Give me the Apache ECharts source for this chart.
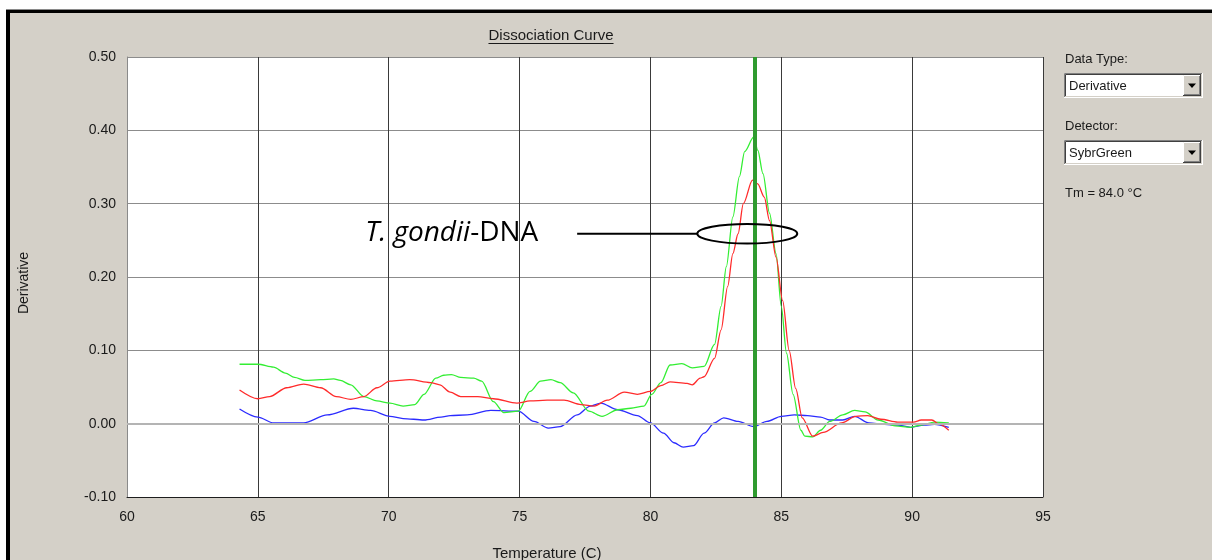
<!DOCTYPE html>
<html>
<head>
<meta charset="utf-8">
<script src="https://cdn.jsdelivr.net/npm/echarts@6/dist/echarts.min.js"></script>
<style>
  html, body { margin: 0; padding: 0; background: #ffffff; }
  #chart { width: 1212px; height: 560px; }
</style>
</head>
<body>
<div id="chart"></div>
<script>
// ---- Melt-curve data: temperature (°C) and derivative readings per well ----
const greenTemp = [64.3, 65.0, 65.6, 66.05, 66.4, 66.8, 67.4, 67.9, 68.15, 68.55, 69.05, 69.55, 70.05, 70.55, 71.0, 71.35, 71.8, 72.1, 72.4, 72.75, 73.25, 73.55, 74.0, 74.4, 74.95, 75.4, 75.8, 76.2, 76.55, 77.05, 77.65, 78.15, 78.75, 79.25, 79.75, 80.05, 80.4, 80.75, 81.2, 81.6, 82.05, 82.45, 82.7, 82.9, 83.15, 83.4, 83.6, 83.95, 84.1, 84.3, 84.55, 84.8, 85.0, 85.2, 85.45, 85.75, 85.9, 86.2, 86.5, 86.85, 87.35, 87.8, 88.2, 88.7, 89.35, 89.95, 90.35, 90.85, 91.4];
const greenDeriv = [0.081, 0.081, 0.077, 0.069, 0.063, 0.059, 0.060, 0.061, 0.059, 0.053, 0.037, 0.031, 0.028, 0.024, 0.026, 0.040, 0.062, 0.066, 0.067, 0.063, 0.062, 0.058, 0.030, 0.015, 0.017, 0.044, 0.058, 0.060, 0.056, 0.042, 0.017, 0.010, 0.019, 0.021, 0.024, 0.040, 0.056, 0.080, 0.082, 0.076, 0.078, 0.108, 0.160, 0.214, 0.282, 0.337, 0.371, 0.391, 0.373, 0.341, 0.287, 0.232, 0.160, 0.096, 0.040, -0.009, -0.017, -0.018, -0.009, 0.003, 0.012, 0.018, 0.016, 0.005, -0.003, -0.005, -0.002, 0.002, 0.001];

const redTemp = [64.3, 65.0, 65.45, 66.1, 66.75, 67.4, 68.0, 68.55, 69.05, 69.55, 70.05, 70.8, 71.6, 71.95, 72.35, 72.75, 73.4, 74.0, 74.9, 75.4, 76.05, 76.7, 77.35, 77.85, 78.35, 79.0, 79.5, 80.0, 80.4, 80.75, 81.4, 81.6, 81.9, 82.05, 82.45, 82.7, 82.95, 83.15, 83.35, 83.55, 83.9, 84.1, 84.35, 84.55, 84.8, 85.05, 85.3, 85.55, 85.8, 86.2, 86.6, 87.3, 87.85, 88.3, 88.8, 89.45, 90.05, 90.35, 90.75, 91.05, 91.4];
const redDeriv = [0.046, 0.034, 0.037, 0.049, 0.054, 0.049, 0.037, 0.033, 0.037, 0.049, 0.058, 0.060, 0.056, 0.053, 0.043, 0.037, 0.037, 0.034, 0.028, 0.031, 0.032, 0.032, 0.026, 0.024, 0.032, 0.043, 0.040, 0.044, 0.052, 0.057, 0.055, 0.053, 0.062, 0.064, 0.089, 0.128, 0.187, 0.232, 0.259, 0.300, 0.332, 0.327, 0.309, 0.277, 0.227, 0.168, 0.100, 0.048, 0.008, -0.017, -0.012, 0.001, 0.010, 0.011, 0.006, 0.002, 0.002, 0.005, 0.005, -0.001, -0.009];

const blueTemp = [64.3, 65.0, 65.6, 66.75, 67.65, 68.65, 69.3, 70.05, 70.55, 71.35, 72.0, 72.35, 73.0, 73.9, 74.95, 75.55, 76.1, 76.55, 77.2, 77.7, 78.1, 78.75, 79.5, 80.0, 80.5, 80.9, 81.25, 81.65, 82.05, 82.45, 82.8, 83.35, 83.95, 84.45, 85.0, 85.5, 86.0, 86.5, 86.85, 87.35, 87.8, 88.35, 88.95, 89.45, 89.95, 90.45, 90.85, 91.4];
const blueDeriv = [0.020, 0.009, 0.001, 0.001, 0.012, 0.021, 0.018, 0.010, 0.007, 0.005, 0.009, 0.011, 0.012, 0.018, 0.017, 0.003, -0.006, -0.004, 0.012, 0.024, 0.028, 0.019, 0.011, 0.001, -0.013, -0.026, -0.032, -0.030, -0.013, 0.001, 0.008, 0.003, -0.004, 0.003, 0.010, 0.012, 0.011, 0.009, 0.005, 0.005, 0.010, 0.001, -0.001, -0.002, -0.005, -0.002, -0.001, -0.005];

// Melting temperature marker and axis ranges
const TM = 84.0;
const xRange = [60, 95];
const yRange = [-0.10, 0.50];

// Callout pointing at the product peak (data units)
const callout = { label: ['T. gondii', '-DNA'], textT: 69.1, lineFromT: 77.2, centerT: 83.7, level: 0.259, halfWidthT: 1.91, halfHeight: 0.0133 };

const pairs = (t, v) => t.map((x, i) => [x, v[i]]);

const FONT = '"Liberation Sans", Arial, sans-serif';
const PANEL = '#D4D0C8';
const INK = '#1a1a1a';

const chart = echarts.init(document.getElementById('chart'), null, { renderer: 'canvas' });

function curve(name, color, temps, vals, z) {
  return {
    name, type: 'line', data: pairs(temps, vals),
    symbol: 'none', showSymbol: false, smooth: 0.3, smoothMonotone: 'x',
    lineStyle: { color, width: 1.3 }, z, silent: true
  };
}

const measure = (() => {
  const ctx = document.createElement('canvas').getContext('2d');
  return (text, font) => { ctx.font = font; return ctx.measureText(text).width; };
})();

function txt(x, y, text, size, extra) {
  return Object.assign({
    type: 'text', x, y, silent: true,
    style: { text, font: size + 'px ' + FONT, fill: INK, align: 'left', verticalAlign: 'middle', textAlign: 'left', textVerticalAlign: 'middle' }
  }, extra || {});
}

// Windows-style drop-down box
function combo(x, y, w, h, label) {
  const els = [];
  els.push({ type: 'rect', shape: { x, y, width: w, height: h }, style: { fill: '#ffffff' }, silent: true });
  const ln = (x1, y1, x2, y2, c) => ({ type: 'line', shape: { x1, y1, x2, y2 }, style: { stroke: c, lineWidth: 1 }, silent: true });
  // sunken frame
  els.push(ln(x + 0.5, y + h, x + 0.5, y + 0.5, '#808080'));
  els.push(ln(x + 0.5, y + 0.5, x + w, y + 0.5, '#808080'));
  els.push(ln(x + 1.5, y + h - 1, x + 1.5, y + 1.5, '#404040'));
  els.push(ln(x + 1.5, y + 1.5, x + w - 1, y + 1.5, '#404040'));
  els.push(ln(x, y + h - 0.5, x + w, y + h - 0.5, '#ffffff'));
  els.push(ln(x + w - 0.5, y, x + w - 0.5, y + h, '#ffffff'));
  els.push(ln(x + 1, y + h - 1.5, x + w - 1, y + h - 1.5, PANEL));
  els.push(ln(x + w - 1.5, y + 1, x + w - 1.5, y + h - 1, PANEL));
  // button
  const bx = x + w - 20, by = y + 2, bw = 18, bh = h - 4;
  els.push({ type: 'rect', shape: { x: bx, y: by, width: bw, height: bh }, style: { fill: PANEL }, silent: true });
  els.push(ln(bx + 0.5, by + bh, bx + 0.5, by + 0.5, '#ffffff'));
  els.push(ln(bx + 0.5, by + 0.5, bx + bw, by + 0.5, '#ffffff'));
  els.push(ln(bx, by + bh - 0.5, bx + bw, by + bh - 0.5, '#404040'));
  els.push(ln(bx + bw - 0.5, by, bx + bw - 0.5, by + bh, '#404040'));
  els.push(ln(bx + 1, by + bh - 1.5, bx + bw - 1, by + bh - 1.5, '#808080'));
  els.push(ln(bx + bw - 1.5, by + 1, bx + bw - 1.5, by + bh - 1, '#808080'));
  const cx = bx + bw / 2, cy = by + bh / 2;
  els.push({ type: 'polygon', shape: { points: [[cx - 4, cy - 2], [cx + 4, cy - 2], [cx, cy + 2.5]] }, style: { fill: '#000' }, silent: true });
  els.push(txt(x + 5, y + h / 2 + 0.5, label, 13));
  return els;
}

const option = {
  animation: false,
  backgroundColor: PANEL,
  grid: { left: 127, top: 57, width: 916, height: 440, show: true, backgroundColor: '#ffffff', borderWidth: 0 },
  xAxis: {
    type: 'value', min: xRange[0], max: xRange[1], interval: 5,
    axisLine: { show: true, onZero: false, lineStyle: { color: '#1e1e1e', width: 1 } },
    axisTick: { show: false },
    axisLabel: { margin: 13, color: INK, fontFamily: FONT, fontSize: 14 },
    splitLine: { show: true, lineStyle: { color: '#3a3a3a', width: 1 } }
  },
  yAxis: {
    type: 'value', min: yRange[0], max: yRange[1], interval: 0.1,
    axisLine: { show: true, onZero: false, lineStyle: { color: '#8a8a8a', width: 1 } },
    axisTick: { show: false },
    axisLabel: { margin: 11, color: INK, fontFamily: FONT, fontSize: 14, formatter: v => v.toFixed(2) },
    splitLine: { show: true, lineStyle: { color: '#8c8c8c', width: 1 } }
  },
  series: [
    { // baseline at zero, under the curves
      type: 'line', data: [], z: 1, silent: true,
      markLine: { silent: true, symbol: 'none', label: { show: false }, animation: false,
        lineStyle: { color: '#b4b4b4', width: 2, type: 'solid' }, data: [{ yAxis: 0 }] }
    },
    curve('Well B', '#2b2bff', blueTemp, blueDeriv, 2),
    curve('Well G', '#33ee33', greenTemp, greenDeriv, 3),
    curve('Well R', '#ff2b2b', redTemp, redDeriv, 4),
    { // Tm marker
      type: 'line', data: [], z: 5, silent: true,
      markLine: { silent: true, symbol: 'none', label: { show: false }, animation: false,
        lineStyle: { color: '#2f9b2f', width: 4, type: 'solid' }, data: [{ xAxis: TM }] }
    }
  ]
};

chart.setOption(option);

// ---- decorations: window frame, titles, side panel, callout ----
const px = (t, v) => chart.convertToPixel({ gridIndex: 0 }, [t, v]);

const titleFont = '15px ' + FONT;
const titleText = 'Dissociation Curve';
const titleW = measure(titleText, titleFont);
const titleCx = 551;

const c = px(callout.centerT, callout.level);
const e = px(callout.centerT + callout.halfWidthT, callout.level + callout.halfHeight);
const rx = e[0] - c[0], ry = c[1] - e[1];
const lineStart = px(callout.lineFromT, callout.level);
const textPos = px(callout.textT, callout.level);

const annFont = '"Open Sans", sans-serif';

const graphics = [
  // window frame
  { type: 'rect', shape: { x: 0, y: 0, width: 1212, height: 10 }, style: { fill: '#ffffff' }, silent: true },
  { type: 'rect', shape: { x: 0, y: 0, width: 6, height: 560 }, style: { fill: '#ffffff' }, silent: true },
  { type: 'rect', shape: { x: 6, y: 9, width: 1206, height: 1 }, style: { fill: '#8a8a8a' }, silent: true },
  { type: 'rect', shape: { x: 6, y: 10, width: 1206, height: 3 }, style: { fill: '#000000' }, silent: true },
  { type: 'rect', shape: { x: 6, y: 10, width: 4, height: 550 }, style: { fill: '#000000' }, silent: true },

  // chart title with underline
  txt(titleCx, 36, titleText, 15, { style: { text: titleText, font: titleFont, fill: INK, align: 'center', verticalAlign: 'middle', textAlign: 'center', textVerticalAlign: 'middle' } }),
  { type: 'line', shape: { x1: titleCx - titleW / 2, y1: 43.5, x2: titleCx + titleW / 2, y2: 43.5 }, style: { stroke: INK, lineWidth: 1 }, silent: true },

  // axis titles
  txt(547, 554, 'Temperature (C)', 15, { style: { text: 'Temperature (C)', font: '15px ' + FONT, fill: INK, align: 'center', verticalAlign: 'middle', textAlign: 'center', textVerticalAlign: 'middle' } }),
  txt(24, 283, 'Derivative', 14, { rotation: Math.PI / 2, style: { text: 'Derivative', font: '14px ' + FONT, fill: INK, align: 'center', verticalAlign: 'middle', textAlign: 'center', textVerticalAlign: 'middle' } }),

  // side panel
  txt(1065, 59.5, 'Data Type:', 13),
  ...combo(1064, 73, 139, 25, 'Derivative'),
  txt(1065, 126.5, 'Detector:', 13),
  ...combo(1064, 140, 139, 25, 'SybrGreen'),
  txt(1065, 193, 'Tm = ' + TM.toFixed(1) + ' °C', 13),

  // callout
  { type: 'text', x: textPos[0], y: textPos[1] - 1, silent: true, z: 10,
    style: { text: '{i|' + callout.label[0] + '}{n|' + callout.label[1] + '}', align: 'left', verticalAlign: 'middle', textAlign: 'left', textVerticalAlign: 'middle',
      rich: { i: { font: 'italic 28px ' + annFont, fill: '#000' }, n: { font: '28px ' + annFont, fill: '#000' } } } },
  { type: 'line', z: 10, silent: true, shape: { x1: lineStart[0], y1: lineStart[1], x2: c[0] - rx, y2: lineStart[1] }, style: { stroke: '#000', lineWidth: 2 } },
  { type: 'ellipse', z: 10, silent: true, shape: { cx: c[0], cy: c[1], rx, ry }, style: { fill: null, stroke: '#000', lineWidth: 2 } }
];

chart.setOption({ graphic: graphics });
</script>
</body>
</html>
